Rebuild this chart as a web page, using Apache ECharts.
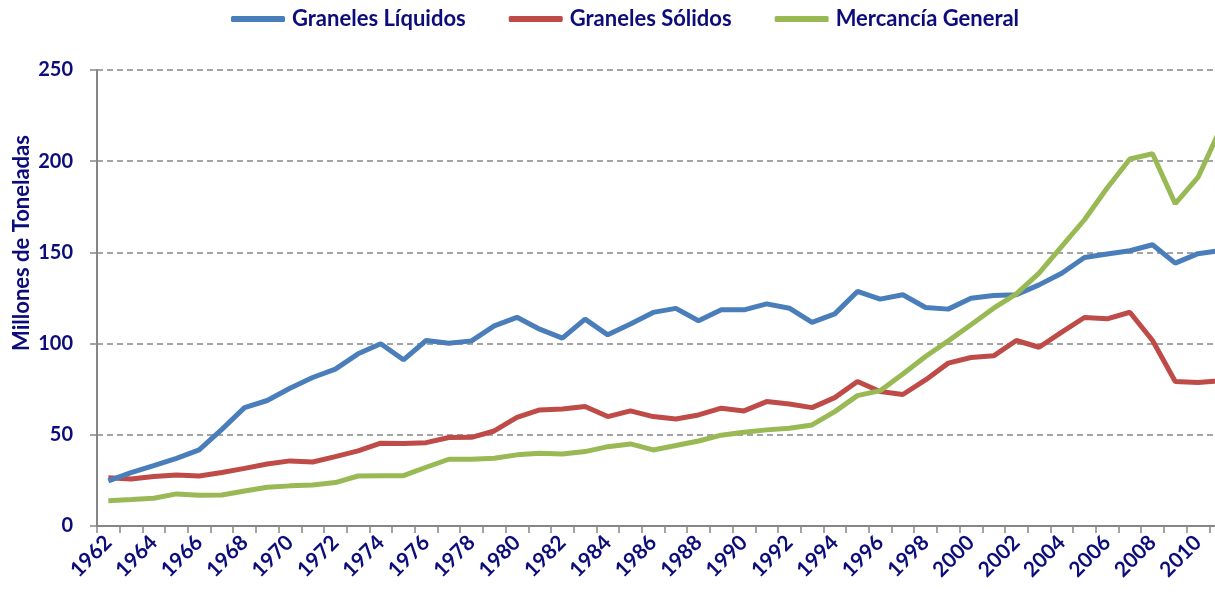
<!DOCTYPE html>
<html>
<head>
<meta charset="utf-8">
<script src="https://cdn.jsdelivr.net/npm/echarts@6/dist/echarts.min.js"></script>
<style>
html,body{margin:0;padding:0;background:#fff;overflow:hidden;width:1215px;height:593px;}
#chart{width:1232px;height:593px;}
</style>
</head>
<body>
<div id="chart"></div>
<script>
const years = [];
for (let y = 1962; y <= 2011; y++) years.push(String(y));

const granelesLiquidos = [
  24.7, 29.3, 33.1, 37.1, 41.7, 53.0, 64.9, 68.8, 75.5, 81.4,
  86.0, 94.4, 99.9, 91.1, 101.7, 100.2, 101.5, 109.7, 114.4, 107.9,
  103.0, 113.4, 104.8, 110.8, 117.1, 119.3, 112.5, 118.5, 118.5, 121.8,
  119.4, 111.6, 116.3, 128.6, 124.4, 126.8, 119.8, 118.9, 124.9, 126.4,
  126.8, 132.2, 138.6, 147.2, 149.1, 150.9, 154.2, 144.1, 149.3, 151.0
];
const granelesSolidos = [
  26.5, 25.8, 27.1, 28.0, 27.4, 29.3, 31.6, 34.0, 35.7, 35.1,
  38.0, 41.2, 45.4, 45.2, 45.7, 48.5, 48.6, 52.1, 59.5, 63.6,
  64.2, 65.5, 60.0, 63.1, 60.0, 58.7, 60.9, 64.6, 63.1, 68.2,
  66.9, 64.9, 70.4, 79.2, 73.7, 72.1, 80.1, 89.3, 92.4, 93.3,
  101.7, 98.0, 106.3, 114.3, 113.6, 117.2, 101.7, 79.2, 78.7, 79.6
];
const mercanciaGeneral = [
  13.9, 14.5, 15.2, 17.6, 16.8, 17.0, 19.2, 21.2, 22.0, 22.5,
  23.8, 27.4, 27.6, 27.6, 32.2, 36.6, 36.6, 37.1, 39.0, 39.9,
  39.5, 40.8, 43.5, 45.0, 41.7, 44.1, 46.6, 49.8, 51.4, 52.7,
  53.6, 55.4, 62.7, 71.5, 74.2, 83.3, 92.9, 101.5, 110.3, 119.4,
  127.3, 138.6, 153.3, 167.9, 185.3, 201.2, 204.1, 176.7, 191.1, 218.0
];
const seriesNames = ['Graneles Líquidos', 'Graneles Sólidos', 'Mercancía General'];
const yAxisTitle = 'Millones de Toneladas';

const navy = '#0c0c7a';
const grey = '#868686';
const fontFam = 'Lato, "Open Sans", sans-serif';

const chart = echarts.init(document.getElementById('chart'), null, {renderer: 'canvas'});
chart.setOption({
  animation: false,
  backgroundColor: '#ffffff',
  color: ['#4a7ebb', '#be4b48', '#98b954'],
  legend: {
    top: 3,
    left: 226,
    itemWidth: 54,
    itemHeight: 6,
    itemGap: 43,
    icon: 'roundRect',
    textStyle: {color: navy, fontWeight: 'bold', fontSize: 22, fontFamily: fontFam, padding: [0, 0, 0, 2]},
    data: seriesNames
  },
  graphic: [{
    type: 'text',
    x: 22,
    y: 243,
    rotation: Math.PI / 2,
    style: {
      text: yAxisTitle,
      fill: navy,
      font: 'bold 22px ' + fontFam,
      align: 'center',
      verticalAlign: 'middle'
    }
  }],
  grid: {left: 97, top: 70, bottom: 67, right: 0, containLabel: false},
  xAxis: {
    type: 'category',
    data: years,
    boundaryGap: true,
    axisLine: {lineStyle: {color: grey, width: 2}},
    axisTick: {show: true, interval: 0, length: 7, lineStyle: {color: grey, width: 1.5}},
    axisLabel: {interval: 1, rotate: 45, margin: 13, color: navy, fontWeight: 'bold', fontSize: 21, fontFamily: fontFam},
    splitLine: {show: false}
  },
  yAxis: {
    type: 'value',
    min: 0, max: 250, interval: 50,
    axisLine: {show: true, lineStyle: {color: grey, width: 2}},
    axisTick: {show: true, length: 7, lineStyle: {color: grey, width: 1.5}},
    axisLabel: {color: navy, fontWeight: 'bold', fontSize: 20, fontFamily: fontFam, margin: 24},
    splitLine: {show: true, lineStyle: {color: grey, width: 1.5, type: [6, 4]}}
  },
  series: [
    {name: seriesNames[0], type: 'line', data: granelesLiquidos, showSymbol: false, symbol: 'none', lineStyle: {width: 5}, z: 3},
    {name: seriesNames[1], type: 'line', data: granelesSolidos, showSymbol: false, symbol: 'none', lineStyle: {width: 5}, z: 2},
    {name: seriesNames[2], type: 'line', data: mercanciaGeneral, showSymbol: false, symbol: 'none', lineStyle: {width: 5}, z: 4}
  ]
});
</script>
</body>
</html>
